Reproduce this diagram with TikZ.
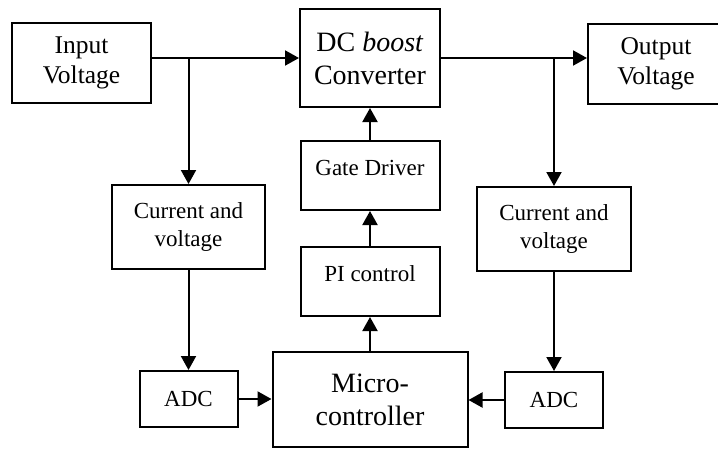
\documentclass[tikz,border=0pt]{standalone}
\usepackage{fontspec}
\setmainfont{Liberation Serif}
\usetikzlibrary{
arrows.meta,
positioning
}

\begin{document}
\begin{tikzpicture}[
    x=1pt, y=-1pt,
    >={Triangle[length=14pt,width=15pt]},
    line width=2pt,
    every node/.style={draw, rectangle, line width=2pt, inner sep=0pt, align=center},
    big/.style={font=\fontsize{28}{33}\selectfont},
    mid/.style={font=\fontsize{25.5}{30}\selectfont},
    small/.style={font=\fontsize{23}{28}\selectfont},
    topbox/.style={small, text height=34pt, text depth=35pt, minimum width=139pt}]
  \useasboundingbox (0,0) rectangle (718,450);
  % power path
  \node[big, minimum width=140pt, minimum height=98pt] (DC) at (370,58) {DC \textit{boost}\\Converter};
  \node[mid, minimum width=139pt, minimum height=80pt] (In) at (81.5,63) {Input\\Voltage};
  \node[mid, minimum width=136pt, minimum height=80pt] (Out) at (656,64) {Output\\Voltage};
  % control column
  \node[topbox, below=32pt of DC] (GD) {Gate Driver};
  \node[topbox, below=35pt of GD] (PI) {PI control};
  \node[big, minimum width=195pt, minimum height=95pt, below=34pt of PI] (MC) {Micro-\\controller};
  % sensing
  \node[small, minimum width=153pt, minimum height=84pt] (CV1) at (188.5,227) {Current and\\voltage};
  \node[small, minimum width=154pt, minimum height=84pt] (CV2) at (554,229) {Current and\\voltage};
  \node[small, minimum width=98pt, minimum height=56pt, below=100pt of CV1] (ADC1) {ADC};
  \node[small, minimum width=98pt, minimum height=56pt, below=99pt of CV2] (ADC2) {ADC};
  \coordinate (J1) at (CV1.north |- DC.west);
  \coordinate (J2) at (CV2.north |- DC.east);
  \draw[->] (In.east |- DC.west) -- (DC.west);
  \draw[->] (DC.east) -- (DC.east -| Out.west);
  \draw[->] (ADC1.east) -- (ADC1.east -| MC.west);
  \draw[->] (ADC2.west) -- (ADC2.west -| MC.east);
  \path[every edge/.style={draw, ->}]
      (J1) edge (CV1)
      (J2) edge (CV2)
      (CV1) edge (ADC1)
      (CV2) edge (ADC2)
      (MC) edge (PI)
      (PI) edge (GD)
      (GD) edge (DC);
\end{tikzpicture}
\end{document}
